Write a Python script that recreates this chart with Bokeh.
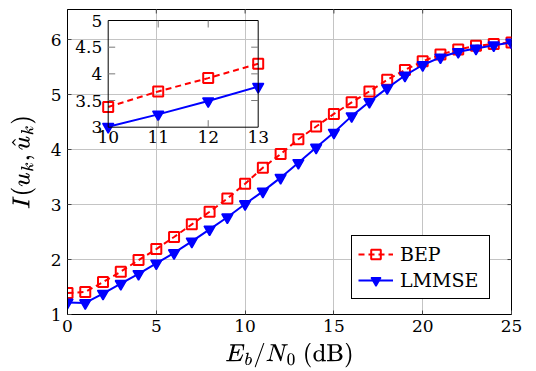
from bokeh.plotting import figure
from bokeh.models import Range1d, FixedTicker, Legend, LegendItem
from bokeh.embed import file_html
from bokeh.resources import INLINE
from bokeh.core.properties import value

# ---------------- data ----------------
snr_db = list(range(0, 26))
bep = [1.39, 1.41, 1.59, 1.78, 1.99, 2.19, 2.41, 2.64, 2.87, 3.11,
       3.38, 3.67, 3.92, 4.19, 4.42, 4.65, 4.86, 5.06, 5.27, 5.45,
       5.61, 5.73, 5.82, 5.89, 5.92, 5.95]
lmmse = [1.22, 1.21, 1.38, 1.56, 1.74, 1.93, 2.12, 2.33, 2.55, 2.77,
         3.01, 3.24, 3.49, 3.76, 4.04, 4.31, 4.61, 4.87, 5.12, 5.35,
         5.54, 5.68, 5.78, 5.84, 5.90, 5.95]
x_ticks = [0, 5, 10, 15, 20, 25]
y_ticks = [1, 2, 3, 4, 5, 6]
inset_x_ticks = [10, 11, 12, 13]
inset_x_labels = ["10", "11", "12", "13"]
inset_y_ticks = [3, 3.5, 4, 4.5, 5]
inset_y_labels = ["3", "3.5", "4", "4.5", "5"]
series_names = ["BEP", "LMMSE"]

# ---------------- layout constants ----------------
W, H = 536, 371
FL, FR, FT, FB = 67, 511, 9, 314          # frame edges in px
XMIN, XMAX, YMIN, YMAX = 0, 25, 1, 6.55
IX0, IX1, IY0, IY1 = 10, 13, 3, 5          # inset ranges
INS_L, INS_R, INS_T, INS_B = 107.7, 257.7, 20, 126.7  # inset box px
FONT = "DejaVu Serif"
TICK_FS = "17px"

sx = (FR - FL) / (XMAX - XMIN)
sy = (FB - FT) / (YMAX - YMIN)
def px_to_x(px): return XMIN + (px - FL) / sx
def px_to_y(py): return YMIN + (FB - py) / sy

p = figure(width=W, height=H, output_backend="svg", toolbar_location=None,
           x_range=Range1d(XMIN, XMAX), y_range=Range1d(YMIN, YMAX),
           min_border_left=FL, min_border_right=W - FR,
           min_border_top=FT, min_border_bottom=H - FB)
p.background_fill_color = "white"
p.border_fill_color = "white"
p.outline_line_color = "black"
p.outline_line_width = 1

for ax in (p.xaxis, p.yaxis):
    ax.major_tick_in = 4
    ax.major_tick_out = 0
    ax.minor_tick_line_color = None
    ax.axis_line_color = "black"
    ax.major_tick_line_color = "#444444"
    ax.major_label_text_font = FONT
    ax.major_label_text_font_size = TICK_FS
    ax.major_label_text_color = "black"
    ax.axis_label_text_font = FONT
    ax.axis_label_text_font_size = "20px"
    ax.axis_label_text_font_style = "normal"
    ax.axis_label_text_color = "black"
p.xaxis.ticker = FixedTicker(ticks=x_ticks)
p.yaxis.ticker = FixedTicker(ticks=y_ticks)
p.xaxis.major_label_standoff = 5
p.yaxis.major_label_standoff = 6
p.xaxis.axis_label = r"$$E_b/N_0\ \mathrm{(dB)}$$"
p.yaxis.axis_label = r"$$I(u_k,\hat{u}_k)$$"
p.xaxis.axis_label_standoff = 8
p.yaxis.axis_label_standoff = 12

p.xgrid.ticker = FixedTicker(ticks=x_ticks)
p.ygrid.ticker = FixedTicker(ticks=y_ticks)
for g in (p.xgrid, p.ygrid):
    g.grid_line_color = "#c4c4c4"
    g.grid_line_width = 1

# tick marks on the right and top frame edges
MT = 4
inner_xt = x_ticks[1:-1]
inner_yt = y_ticks[1:]
p.segment(x0=[XMAX] * len(inner_yt), x1=[XMAX - MT / sx] * len(inner_yt),
          y0=inner_yt, y1=inner_yt, line_color="#444444", line_width=1)
p.segment(x0=inner_xt, x1=inner_xt, y0=[YMAX] * len(inner_xt),
          y1=[YMAX - MT / sy] * len(inner_xt), line_color="#444444", line_width=1)

RED, BLUE = "#ff0000", "#0000ff"

r1 = p.line(snr_db, bep, line_color=RED, line_width=2, line_dash="6 4")
r2 = p.scatter(snr_db, bep, marker="square", size=10, fill_color=None,
               line_color=RED, line_width=2)
r3 = p.line(snr_db, lmmse, line_color=BLUE, line_width=2)
r4 = p.scatter(snr_db, lmmse, marker="inverted_triangle", size=11,
               fill_color=BLUE, line_color=BLUE, line_width=1.5)

legend = Legend(items=[LegendItem(label=series_names[0], renderers=[r1, r2]),
                       LegendItem(label=series_names[1], renderers=[r3, r4])],
                location=(351 - FL, FB - 299))
legend.label_text_font = FONT
legend.label_text_font_size = "19px"
legend.label_text_color = "black"
legend.border_line_color = "black"
legend.border_line_width = 1
legend.border_line_alpha = 1
legend.background_fill_alpha = 1
legend.padding = 6
legend.spacing = 2
legend.margin = 0
legend.glyph_width = 35
legend.glyph_height = 24
legend.label_height = 24
legend.label_standoff = 7
legend.label_width = 83
p.add_layout(legend, "center")

# ---------------- inset ----------------
ins = p.subplot(x_source=Range1d(IX0, IX1), y_source=Range1d(IY0, IY1),
                x_target=Range1d(px_to_x(INS_L), px_to_x(INS_R)),
                y_target=Range1d(px_to_y(INS_B), px_to_y(INS_T)))

idx = [i for i, s in enumerate(snr_db) if IX0 <= s <= IX1]
ix = [snr_db[i] for i in idx]
ib = [bep[i] for i in idx]
il = [lmmse[i] for i in idx]

ins.line(ix, ib, line_color=RED, line_width=2, line_dash="6 4")
ins.scatter(ix, ib, marker="square", size=10, fill_color=None,
            line_color=RED, line_width=2)
ins.line(ix, il, line_color=BLUE, line_width=2)
ins.scatter(ix, il, marker="inverted_triangle", size=11,
            fill_color=BLUE, line_color=BLUE, line_width=1.5)

# inset box and ticks
ins.quad(left=[IX0], right=[IX1], bottom=[IY0], top=[IY1],
         fill_color=None, line_color="black", line_width=1)
ux = (IX1 - IX0) / (INS_R - INS_L)   # data units per px
uy = (IY1 - IY0) / (INS_B - INS_T)
TL = 7
inner_x = inset_x_ticks[1:-1]
inner_y = inset_y_ticks[1:-1]
ins.segment(x0=inner_x + inner_x, x1=inner_x + inner_x,
            y0=[IY0] * len(inner_x) + [IY1] * len(inner_x),
            y1=[IY0 + TL * uy] * len(inner_x) + [IY1 - TL * uy] * len(inner_x),
            line_color="#777777", line_width=1)
ins.segment(x0=[IX0] * len(inner_y) + [IX1] * len(inner_y),
            x1=[IX0 + TL * ux] * len(inner_y) + [IX1 - TL * ux] * len(inner_y),
            y0=inner_y + inner_y, y1=inner_y + inner_y,
            line_color="#777777", line_width=1)

ins.text(x=[IX0] * len(inset_y_ticks), y=inset_y_ticks, text=inset_y_labels,
         x_offset=-6, text_align="right", text_baseline="middle",
         text_font=value(FONT), text_font_size=TICK_FS, text_color="black")
ins.text(x=inset_x_ticks, y=[IY0] * len(inset_x_ticks), text=inset_x_labels,
         y_offset=4, text_align="center", text_baseline="top",
         text_font=value(FONT), text_font_size=TICK_FS, text_color="black")

open("out.html", "w").write(file_html(p, INLINE))
